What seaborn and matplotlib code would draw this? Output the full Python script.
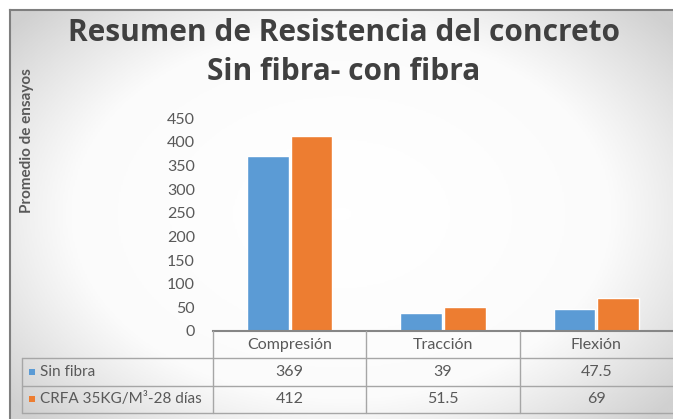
import numpy as np
import pandas as pd
import seaborn as sns
import matplotlib.pyplot as plt
from matplotlib.colors import LinearSegmentedColormap

# Datos del gráfico
categorias = ["Compresión", "Tracción", "Flexión"]
series = ["Sin fibra", "CRFA 35KG/M³-28 días"]
sin_fibra = [369, 39, 47.5]
con_fibra = [412, 51.5, 69]
yticks = [0, 50, 100, 150, 200, 250, 300, 350, 400, 450]
colores = ["#5B9BD5", "#ED7D31"]

titulo1 = "Resumen de Resistencia del concreto"
titulo2 = "Sin fibra- con fibra"
etiqueta_y = "Promedio de ensayos"

df = pd.DataFrame({
    "Ensayo": categorias * 2,
    "Serie": [series[0]] * len(categorias) + [series[1]] * len(categorias),
    "Valor": sin_fibra + con_fibra,
})

sns.set_theme(style="white")
plt.rcParams["font.family"] = ["Lato", "DejaVu Sans"]

W, H = 673, 419
fig = plt.figure(figsize=(W / 100, H / 100), dpi=100)


def fx(px):
    return px / W


def fy(py):
    return 1 - py / H


gris_txt = "#595959"

# Fondo con degradado radial (como en Excel)
bg = fig.add_axes([fx(10), 0, 1 - fx(10), fy(10)])
yy, xx = np.mgrid[-1:1:300j, -1:1:400j]
r = np.sqrt((xx * 1.0) ** 2 + (yy * 0.9) ** 2)
r = np.clip(r, 0, 1.3) ** 1.5
cmap_bg = LinearSegmentedColormap.from_list("bg", ["#ffffff", "#fbfbfb", "#d0d0d0"])
bg.imshow(r, cmap=cmap_bg, aspect="auto", extent=[0, 1, 0, 1], vmin=0, vmax=1.3 ** 1.5)
bg.set_xticks([])
bg.set_yticks([])
for lado in ["right", "bottom"]:
    bg.spines[lado].set_visible(False)
for lado in ["left", "top"]:
    bg.spines[lado].set_color("#7f7f7f")
    bg.spines[lado].set_linewidth(1.5)

# Gráfico de barras
ax = fig.add_axes([fx(213), fy(331), fx(673) - fx(213), fy(118) - fy(331)])
ax.patch.set_alpha(0)
sns.barplot(data=df, x="Ensayo", y="Valor", hue="Serie", palette=colores,
            width=0.57, gap=0.05, saturation=1, legend=False, ax=ax)
ax.set_xlim(-0.5, len(categorias) - 0.5)
ax.set_ylim(0, 450)
ax.set_yticks(yticks)
ax.set_xticks([])
ax.set_xlabel("")
ax.set_ylabel("")
for lado in ["left", "top", "right"]:
    ax.spines[lado].set_visible(False)
ax.spines["bottom"].set_color("#868686")
ax.spines["bottom"].set_linewidth(1.5)
ax.tick_params(axis="y", length=0, pad=13, labelsize=11.5, labelcolor=gris_txt)

# Títulos
fig.text(fx(344), fy(33), titulo1, ha="center", va="center", family="Open Sans",
         fontsize=21.5, fontweight="bold", color="#404040")
fig.text(fx(344), fy(72), titulo2, ha="center", va="center", family="Open Sans",
         fontsize=21.5, fontweight="bold", color="#404040")
fig.text(fx(27), fy(141), etiqueta_y, rotation=90, ha="center", va="center",
         fontsize=11, fontweight="bold", color=gris_txt)

# Tabla de datos debajo del eje
tax = fig.add_axes([fx(213), fy(413), fx(673) - fx(213), fy(331) - fy(413)])
tax.set_xlim(-0.5, len(categorias) - 0.5)
tax.set_ylim(3, 0)
tax.axis("off")
px_unidad = (673 - 213) / len(categorias)
x_izq = -0.5 - (213 - 22) / px_unidad
c_lin = "#a6a6a6"
for yl in [1, 2, 3]:
    tax.plot([x_izq, len(categorias) - 0.5], [yl, yl], color=c_lin, lw=1, clip_on=False)
for i in range(len(categorias)):
    tax.plot([i - 0.5, i - 0.5], [0, 3], color=c_lin, lw=1, clip_on=False)
tax.plot([x_izq, x_izq], [1, 3], color=c_lin, lw=1, clip_on=False)

for i, cat in enumerate(categorias):
    tax.text(i, 0.5, cat, ha="center", va="center", fontsize=11.5, color=gris_txt)
for fila, (nombre, vals, col) in enumerate(zip(series, [sin_fibra, con_fibra], colores), start=1):
    for i, v in enumerate(vals):
        tax.text(i, fila + 0.5, f"{v:g}", ha="center", va="center", fontsize=11.5, color=gris_txt)
    tax.scatter([x_izq + 10 / px_unidad], [fila + 0.5], marker="s", s=20, color=col,
                clip_on=False, linewidths=0)
    tax.text(x_izq + 18 / px_unidad, fila + 0.5, nombre, ha="left", va="center",
             fontsize=11, color=gris_txt, clip_on=False)

fig.savefig("out.png", dpi=100)
